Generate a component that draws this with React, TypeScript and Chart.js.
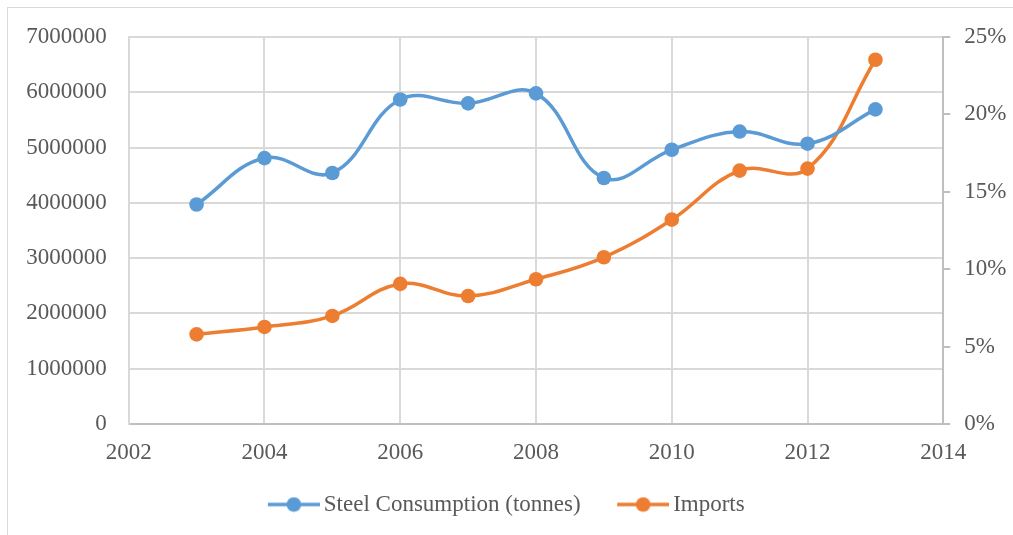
import React, { useEffect, useRef } from "react";
import { Chart, registerables } from "chart.js";

Chart.register(...registerables);

// ---- Data ----
const years = [2003, 2004, 2005, 2006, 2007, 2008, 2009, 2010, 2011, 2012, 2013];
const steelConsumption = [3970000, 4810000, 4540000, 5870000, 5800000, 5980000, 4450000, 4960000, 5290000, 5070000, 5690000];
const importsPct = [5.79, 6.27, 6.98, 9.05, 8.27, 9.35, 10.77, 13.2, 16.37, 16.5, 23.53];
const seriesLabels = ["Steel Consumption (tonnes)", "Imports"];
const xRange = [2002, 2014, 2];
const leftRange = [0, 7000000, 1000000];
const rightRange = [0, 25, 5];

const BLUE = "#5b9bd5";
const ORANGE = "#ed7d31";
const TEXT = "#595959";
const GRID = "#d9d9d9";
const AXIS = "#bfbfbf";
const FONT = "'Liberation Serif', 'Times New Roman', serif";

function makeLegendIcon(color: string): HTMLCanvasElement {
  const c = document.createElement("canvas");
  c.width = 86;
  c.height = 16;
  const ctx = c.getContext("2d")!;
  ctx.strokeStyle = color;
  ctx.lineWidth = 3.5;
  ctx.beginPath();
  ctx.moveTo(34, 8);
  ctx.lineTo(86, 8);
  ctx.stroke();
  ctx.fillStyle = color;
  ctx.beginPath();
  ctx.arc(60, 8, 7.3, 0, Math.PI * 2);
  ctx.fill();
  return c;
}

// shifts the legend block so the visible samples are centred like the reference
const legendShift = {
  id: "legendShift",
  afterLayout(chart: any) {
    const l = chart.legend;
    if (l) {
      l.left -= 13.5;
      l.right -= 13.5;
    }
  },
};

export default function App() {
  const ref = useRef<HTMLCanvasElement | null>(null);

  useEffect(() => {
    if (!ref.current) return;
    const icons = [makeLegendIcon(BLUE), makeLegendIcon(ORANGE)];
    const chart = new Chart(ref.current, {
      type: "line",
      data: {
        datasets: [
          {
            label: seriesLabels[0],
            data: years.map((y, i) => ({ x: y, y: steelConsumption[i] })),
            borderColor: BLUE,
            backgroundColor: BLUE,
            borderWidth: 3.5,
            pointRadius: 7.3,
            pointHoverRadius: 7.3,
            pointBorderWidth: 0,
            tension: 0.4,
            yAxisID: "y",
          },
          {
            label: seriesLabels[1],
            data: years.map((y, i) => ({ x: y, y: importsPct[i] })),
            borderColor: ORANGE,
            backgroundColor: ORANGE,
            borderWidth: 3.5,
            pointRadius: 7.3,
            pointHoverRadius: 7.3,
            pointBorderWidth: 0,
            tension: 0.4,
            yAxisID: "y1",
          },
        ],
      },
      plugins: [legendShift],
      options: {
        responsive: false,
        animation: false,
        layout: { padding: { top: 37, left: 0, right: 0, bottom: 9 } },
        plugins: {
          tooltip: { enabled: false },
          legend: {
            position: "bottom",
            align: "center",
            labels: {
              usePointStyle: true,
              pointStyleWidth: 71,
              padding: 10,
              color: TEXT,
              font: { family: FONT, size: 23 },
              generateLabels: (ch: any) => {
                const items = Chart.defaults.plugins.legend.labels.generateLabels(ch);
                return items.map((it: any, i: number) => ({ ...it, pointStyle: icons[i] }));
              },
            },
          },
        },
        scales: {
          x: {
            type: "linear",
            min: xRange[0],
            max: xRange[1],
            afterFit: (s: any) => {
              s.height = 59;
            },
            ticks: {
              stepSize: xRange[2],
              color: TEXT,
              font: { family: FONT, size: 23 },
              padding: 15,
              callback: (v: any) => String(v),
            },
            grid: { color: GRID, lineWidth: 2, drawTicks: false },
            border: { color: AXIS, width: 2 },
          },
          y: {
            position: "left",
            min: leftRange[0],
            max: leftRange[1],
            afterFit: (s: any) => {
              s.width = 128.7;
            },
            ticks: {
              stepSize: leftRange[2],
              color: TEXT,
              font: { family: FONT, size: 23 },
              padding: 22,
              callback: (v: any) => String(v),
            },
            grid: { color: GRID, lineWidth: 2, drawTicks: false },
            border: { color: GRID, width: 2 },
          },
          y1: {
            position: "right",
            min: rightRange[0],
            max: rightRange[1],
            afterFit: (s: any) => {
              s.width = 69.7;
            },
            ticks: {
              stepSize: rightRange[2],
              color: TEXT,
              font: { family: FONT, size: 23 },
              padding: 14,
              callback: (v: any) => v + "%",
            },
            grid: { drawOnChartArea: false, drawTicks: true, tickLength: 7, tickColor: AXIS, lineWidth: 2 },
            border: { color: AXIS, width: 2 },
          },
        },
      },
    });
    return () => chart.destroy();
  }, []);

  return (
    <div style={{ position: "fixed", left: 0, top: 0, width: 1013, height: 535, background: "#fff" }}>
      <div
        style={{
          position: "absolute",
          left: 7,
          top: 7,
          width: 1020,
          height: 540,
          borderTop: "1px solid #d9d9d9",
          borderLeft: "1px solid #d9d9d9",
        }}
      />
      <canvas ref={ref} width={1013} height={535} style={{ position: "absolute", left: 0, top: 0 }} />
    </div>
  );
}
